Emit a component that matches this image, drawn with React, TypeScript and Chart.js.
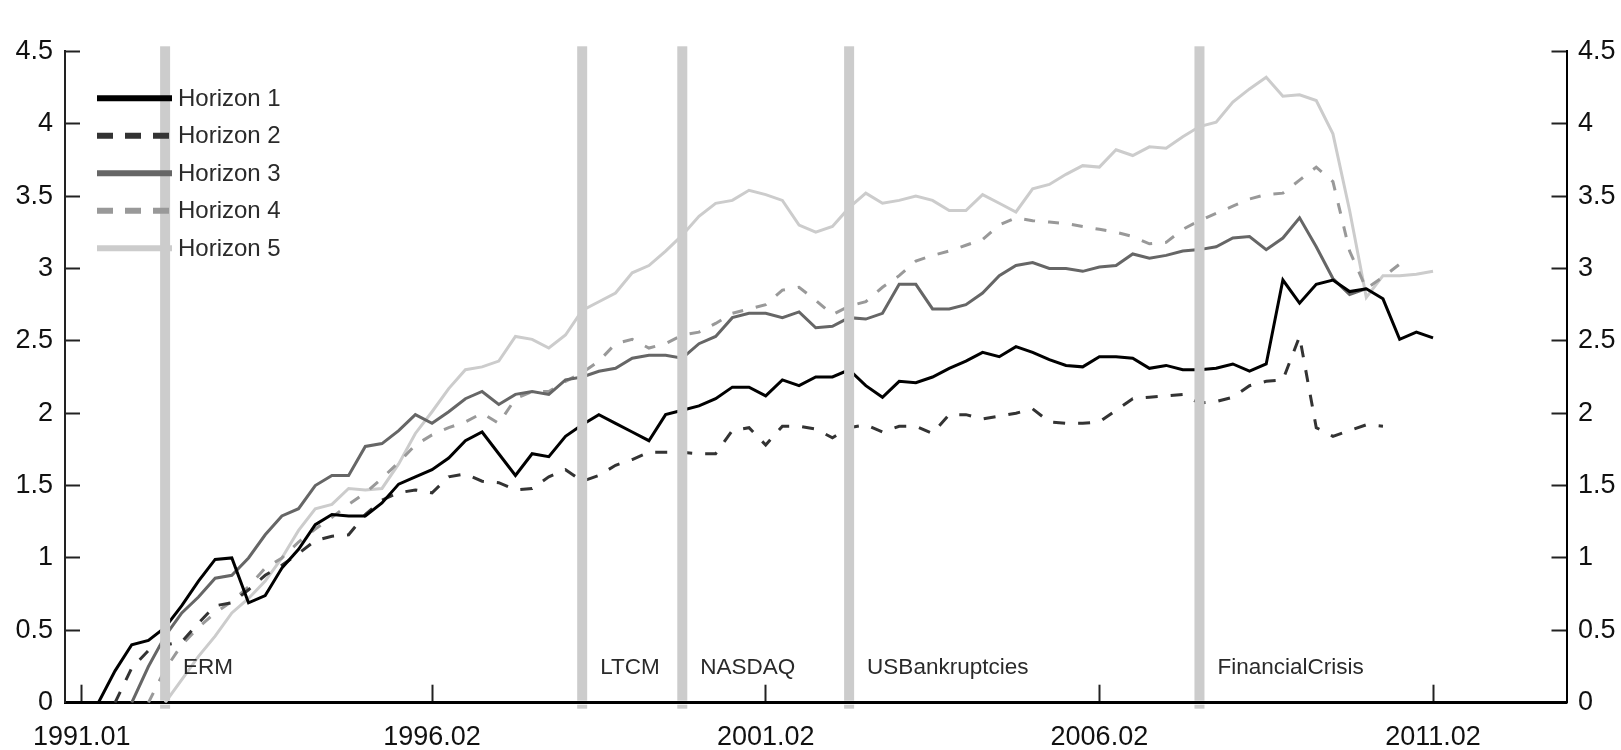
import React, { useEffect, useRef } from 'react';
import { Chart, registerables } from 'chart.js';

Chart.register(...registerables);

// Quarterly observations, index 0 = 1991.01 (1991 Q1) ... index 81 = 2011.02
const xTickQuarters = [0, 21, 41, 61, 81];
const xTickLabels = ['1991.01', '1996.02', '2001.02', '2006.02', '2011.02'];

const seriesNames = ['Horizon 1', 'Horizon 2', 'Horizon 3', 'Horizon 4', 'Horizon 5'];

const horizon1 = [
  null, 0.00, 0.22, 0.40, 0.43, 0.52, 0.67, 0.84, 0.99, 1.00,
  0.69, 0.74, 0.93, 1.06, 1.23, 1.30, 1.29, 1.29, 1.38, 1.51,
  1.56, 1.61, 1.69, 1.81, 1.87, 1.72, 1.57, 1.72, 1.70, 1.84,
  1.92, 1.99, 1.93, 1.87, 1.81, 1.99, 2.02, 2.05, 2.10, 2.18,
  2.18, 2.12, 2.23, 2.19, 2.25, 2.25, 2.30, 2.19, 2.11, 2.22,
  2.21, 2.25, 2.31, 2.36, 2.42, 2.39, 2.46, 2.42, 2.37, 2.33,
  2.32, 2.39, 2.39, 2.38, 2.31, 2.33, 2.30, 2.30, 2.31, 2.34,
  2.29, 2.34, 2.92, 2.76, 2.89, 2.92, 2.84, 2.86, 2.79, 2.51,
  2.56, 2.52,
];

const horizon2 = [
  null, null, 0.00, 0.24, 0.36, 0.40, 0.42, 0.55, 0.67, 0.69,
  0.78, 0.88, 0.95, 1.03, 1.12, 1.15, 1.16, 1.30, 1.40, 1.45,
  1.47, 1.45, 1.56, 1.58, 1.53, 1.52, 1.47, 1.48, 1.56, 1.61,
  1.53, 1.57, 1.64, 1.68, 1.73, 1.73, 1.73, 1.72, 1.72, 1.88,
  1.90, 1.78, 1.91, 1.91, 1.89, 1.83, 1.90, 1.92, 1.87, 1.91,
  1.91, 1.86, 1.99, 1.99, 1.96, 1.98, 2.00, 2.03, 1.94, 1.93,
  1.93, 1.94, 2.02, 2.10, 2.11, 2.12, 2.13, 2.07, 2.08, 2.11,
  2.19, 2.22, 2.23, 2.53, 1.90, 1.84, 1.88, 1.92, 1.91, null,
  null, null,
];

const horizon3 = [
  null, null, null, 0.00, 0.25, 0.46, 0.62, 0.73, 0.86, 0.88,
  1.00, 1.16, 1.29, 1.34, 1.50, 1.57, 1.57, 1.77, 1.79, 1.88,
  1.99, 1.93, 2.01, 2.10, 2.15, 2.06, 2.13, 2.15, 2.13, 2.23,
  2.25, 2.29, 2.31, 2.38, 2.40, 2.40, 2.38, 2.48, 2.53, 2.66,
  2.69, 2.69, 2.66, 2.70, 2.59, 2.60, 2.66, 2.65, 2.69, 2.89,
  2.89, 2.72, 2.72, 2.75, 2.83, 2.95, 3.02, 3.04, 3.00, 3.00,
  2.98, 3.01, 3.02, 3.10, 3.07, 3.09, 3.12, 3.13, 3.15, 3.21,
  3.22, 3.13, 3.21, 3.35, 3.15, 2.93, 2.82, 2.86, null, null,
  null, null,
];

const horizon4 = [
  null, null, null, null, 0.00, 0.23, 0.40, 0.52, 0.62, 0.70,
  0.80, 0.93, 1.00, 1.11, 1.20, 1.28, 1.37, 1.45, 1.55, 1.66,
  1.78, 1.85, 1.90, 1.94, 2.00, 1.93, 2.10, 2.15, 2.15, 2.22,
  2.28, 2.36, 2.48, 2.51, 2.45, 2.48, 2.54, 2.56, 2.62, 2.69,
  2.72, 2.75, 2.85, 2.87, 2.78, 2.68, 2.74, 2.77, 2.87, 2.95,
  3.05, 3.09, 3.12, 3.16, 3.20, 3.30, 3.35, 3.33, 3.32, 3.31,
  3.29, 3.27, 3.25, 3.22, 3.17, 3.18, 3.27, 3.33, 3.38, 3.43,
  3.48, 3.51, 3.52, 3.61, 3.70, 3.60, 3.12, 2.86, 2.94, 3.03,
  null, null,
];

const horizon5 = [
  null, null, null, null, null, 0.00, 0.16, 0.32, 0.46, 0.62,
  0.72, 0.84, 1.00, 1.19, 1.34, 1.37, 1.48, 1.47, 1.48, 1.65,
  1.86, 2.01, 2.17, 2.30, 2.32, 2.36, 2.53, 2.51, 2.45, 2.54,
  2.71, 2.77, 2.83, 2.97, 3.02, 3.12, 3.23, 3.36, 3.45, 3.47,
  3.54, 3.51, 3.47, 3.30, 3.25, 3.29, 3.42, 3.52, 3.45, 3.47,
  3.50, 3.47, 3.40, 3.40, 3.51, 3.45, 3.39, 3.55, 3.58, 3.65,
  3.71, 3.70, 3.82, 3.78, 3.84, 3.83, 3.91, 3.98, 4.01, 4.15,
  4.24, 4.32, 4.19, 4.20, 4.16, 3.93, 3.40, 2.80, 2.95, 2.95,
  2.96, 2.98,
];

const eventQuarters = [5, 30, 36, 46, 67];
const eventLabels = ['ERM', 'LTCM', 'NASDAQ', 'USBankruptcies', 'FinancialCrisis'];

const allSeries = [horizon1, horizon2, horizon3, horizon4, horizon5];

const lineStyles = [
  { color: '#000000', dash: [] as number[], legendDash: [] as number[] },
  { color: '#333333', dash: [12, 13], legendDash: [16, 12] },
  { color: '#666666', dash: [] as number[], legendDash: [] as number[] },
  { color: '#999999', dash: [11, 13], legendDash: [16, 12] },
  { color: '#cccccc', dash: [] as number[], legendDash: [] as number[] },
];

const fontFamily = '"Liberation Sans", Arial, sans-serif';

export default function App() {
  const canvasRef = useRef<HTMLCanvasElement | null>(null);

  useEffect(() => {
    const canvas = canvasRef.current;
    if (!canvas) return;
    const tickFont = { family: fontFamily, size: 27 };
    const legendSize = 24;
    const eventSize = 22.5;
    const textColor = '#111111';

    const overlay = {
      id: 'overlay',
      afterDatasetsDraw(chart: any) {
        const { ctx, chartArea } = chart;
        const xs = chart.scales.x;
        ctx.save();
        ctx.fillStyle = '#cccccc';
        eventQuarters.forEach((q) => {
          const px = xs.getPixelForValue(q);
          ctx.fillRect(px - 5, chartArea.top - 5, 10, chartArea.bottom - chartArea.top + 3);
          ctx.fillRect(px - 5, chartArea.bottom + 2, 10, 4);
        });
        ctx.restore();
      },
      afterDraw(chart: any) {
        const { ctx, chartArea } = chart;
        const xs = chart.scales.x;
        ctx.save();
        // event labels
        ctx.fillStyle = '#2a2a2a';
        ctx.font = `${eventSize}px ${fontFamily}`;
        ctx.textBaseline = 'middle';
        ctx.textAlign = 'left';
        eventQuarters.forEach((q, i) => {
          const px = xs.getPixelForValue(q);
          ctx.fillText(eventLabels[i], px + 18, chartArea.bottom - 35);
        });
        // legend
        const x0 = chartArea.left + 32;
        const x1 = chartArea.left + 107;
        ctx.font = `${legendSize}px ${fontFamily}`;
        seriesNames.forEach((name, i) => {
          const y = chartArea.top + 47 + i * 37.5;
          ctx.strokeStyle = lineStyles[i].color;
          ctx.lineWidth = 6;
          ctx.lineCap = 'butt';
          ctx.setLineDash(lineStyles[i].legendDash);
          ctx.beginPath();
          ctx.moveTo(x0, y);
          ctx.lineTo(x1, y);
          ctx.stroke();
          ctx.setLineDash([]);
          ctx.fillStyle = '#2a2a2a';
          ctx.fillText(name, x1 + 6, y + 1);
        });
        ctx.restore();
      },
    };

    const datasets = allSeries.map((vals, i) => ({
      label: seriesNames[i],
      data: vals.map((v, q) => ({ x: q, y: v })),
      borderColor: lineStyles[i].color,
      backgroundColor: lineStyles[i].color,
      borderDash: lineStyles[i].dash,
      borderWidth: 3,
      pointRadius: 0,
      tension: 0,
      spanGaps: false,
      fill: false,
    }));

    const yTicks = {
      font: tickFont,
      color: textColor,
      stepSize: 0.5,
      callback: (v: any) => String(Number(v)),
    };

    const chart = new Chart(canvas, {
      type: 'line',
      data: { datasets },
      plugins: [overlay],
      options: {
        animation: false,
        responsive: false,
        maintainAspectRatio: false,
        layout: { padding: { top: 51.3, left: 0, right: 0, bottom: 0 } },
        plugins: {
          legend: { display: false },
          tooltip: { enabled: false },
          title: { display: false },
        },
        scales: {
          x: {
            type: 'linear',
            min: -1,
            max: 89,
            afterBuildTicks: (axis: any) => {
              axis.ticks = xTickQuarters.map((v) => ({ value: v }));
            },
            afterFit: (axis: any) => {
              axis.height = 47.3;
              axis.paddingLeft = 0;
              axis.paddingRight = 0;
            },
            ticks: {
              autoSkip: false,
              maxRotation: 0,
              font: tickFont,
              color: textColor,
              padding: 37,
              callback: (v: any) => {
                const idx = xTickQuarters.indexOf(Number(v));
                return idx >= 0 ? xTickLabels[idx] : '';
              },
            },
            grid: {
              drawOnChartArea: false,
              drawTicks: true,
              tickLength: -18,
              tickWidth: 2,
              tickColor: '#222222',
            },
            border: { display: true, color: '#000000', width: 3 },
          },
          y: {
            type: 'linear',
            position: 'left',
            min: 0,
            max: 4.5,
            afterFit: (axis: any) => {
              axis.width = 65;
              axis.paddingTop = 0;
              axis.paddingBottom = 0;
            },
            ticks: { ...yTicks, padding: 27 },
            grid: {
              drawOnChartArea: false,
              tickLength: -15,
              tickWidth: 2,
              tickColor: '#222222',
            },
            border: { display: true, color: '#222222', width: 2 },
          },
          y2: {
            type: 'linear',
            position: 'right',
            min: 0,
            max: 4.5,
            afterFit: (axis: any) => {
              axis.width = 54.5;
              axis.paddingTop = 0;
              axis.paddingBottom = 0;
            },
            ticks: { ...yTicks, padding: 26.5 },
            grid: {
              drawOnChartArea: false,
              tickLength: -15,
              tickWidth: 2,
              tickColor: '#222222',
            },
            border: { display: true, color: '#000000', width: 2 },
          },
        },
      },
    } as any);

    return () => {
      chart.destroy();
    };
  }, []);

  return (
    <div style={{ position: 'absolute', left: 0, top: 0, width: 1621, height: 750, background: '#ffffff' }}>
      <canvas ref={canvasRef} width={1621} height={750} style={{ width: 1621, height: 750, display: 'block' }} />
    </div>
  );
}
